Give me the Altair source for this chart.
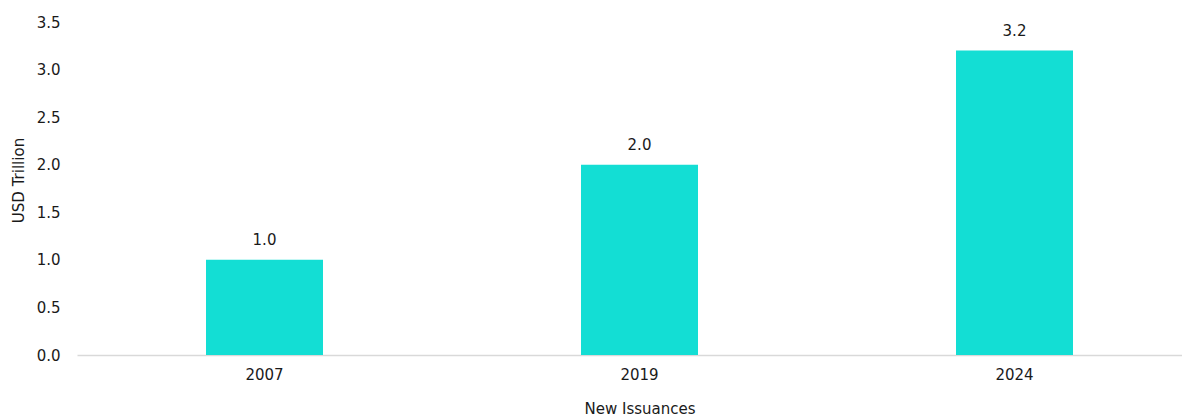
import altair as alt
import pandas as pd

years = ["2007", "2019", "2024"]
values = [1.0, 2.0, 3.2]
labels = ["1.0", "2.0", "3.2"]

df = pd.DataFrame({"year": years, "value": values, "label": labels})

FONT = "DejaVu Sans"
TEXT = "#1a1a1a"

base = alt.Chart(df).encode(
    x=alt.X(
        "year:N",
        sort=years,
        title="New Issuances",
        scale=alt.Scale(paddingInner=0.688, paddingOuter=0.344, range=[0, 1125]),
        axis=alt.Axis(
            labelAngle=0,
            ticks=False,
            domainColor="#d9d9d9",
            domainWidth=1.5,
            labelFont=FONT,
            labelFontSize=15,
            labelColor=TEXT,
            labelPadding=12,
            titleFont=FONT,
            titleFontSize=15,
            titleFontWeight="normal",
            titleColor=TEXT,
            titlePadding=19,
            titleX=562.5,
        ),
    ),
    y=alt.Y(
        "value:Q",
        title="USD Trillion",
        scale=alt.Scale(domain=[0, 3.5], nice=False),
        axis=alt.Axis(
            values=[0, 0.5, 1, 1.5, 2, 2.5, 3, 3.5],
            format=".1f",
            grid=False,
            domain=False,
            ticks=False,
            labelFont=FONT,
            labelFontSize=15,
            labelColor=TEXT,
            labelPadding=17,
            titleFont=FONT,
            titleFontSize=15,
            titleFontWeight="normal",
            titleColor=TEXT,
            titlePadding=10,
            titleY=158,
        ),
    ),
)

bars = base.mark_bar(color="#13DED4")
text = base.mark_text(
    baseline="alphabetic", dy=-15, font=FONT, fontSize=15, color=TEXT
).encode(text="label:N")

chart = (
    (bars + text)
    .properties(
        width=1105,
        height=333,
        autosize=alt.AutoSizeParams(type="none"),
        padding={"left": 69, "top": 14, "right": 0, "bottom": 70},
    )
    .configure_view(stroke=None)
)

chart.save("out.html", embed_options={"renderer": "svg", "actions": False})
